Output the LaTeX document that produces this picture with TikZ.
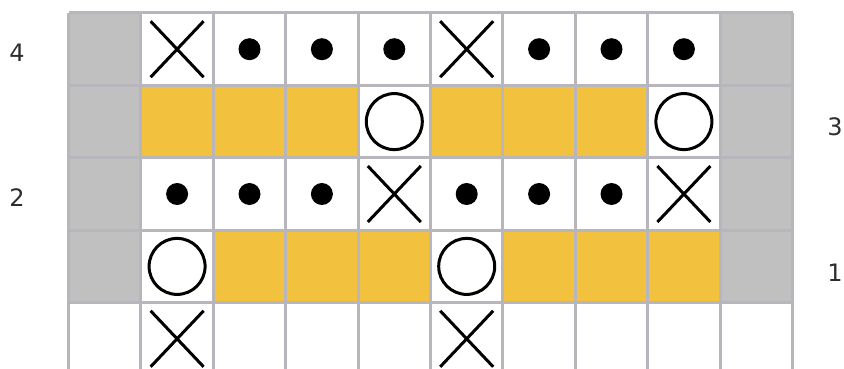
\documentclass[tikz,border=0pt]{standalone}
\usepackage{fontspec}
\setmainfont{DejaVu Sans}
\usepackage{xcolor}
\usepackage{tikz}

\definecolor{boxgray}{RGB}{192,192,192}
\definecolor{gold}{RGB}{242,194,62}
\definecolor{gridgray}{RGB}{182,182,188}
\definecolor{numgray}{RGB}{45,45,45}

\begin{document}
\begin{tikzpicture}[x=1pt, y=-1pt, font=\fontsize{24}{28}\selectfont,
  gridline/.style={draw=gridgray, line width=3pt},
  sym/.style={black, line width=3pt},
  rownum/.style={numgray, inner sep=0pt}]
\useasboundingbox (0,0) rectangle (844,369);
\clip (0,0) rectangle (844,369);
\begin{scope}[shift={(68.5,13)}]
% side columns and yellow cells
\foreach \r in {0,...,3} {
  \fill[boxgray] (0,72.4*\r) rectangle ++(72.4,72.4);
  \fill[boxgray] (72.4*9,72.4*\r) rectangle ++(72.4,72.4);
}
\foreach \c/\r in {1/1,2/1,3/1,5/1,6/1,7/1,2/3,3/3,4/3,6/3,7/3,8/3}
  \fill[gold] (72.4*\c,72.4*\r) rectangle ++(72.4,72.4);
% grid
\foreach \c in {0,...,10} \draw[gridline] (72.4*\c,0) -- (72.4*\c,380);
\foreach \r in {0,...,4} \draw[gridline] (0,72.4*\r) -- (724,72.4*\r);
% crosses
\foreach \c/\r in {1/0,5/0,4/2,8/2,1/4,5/4}
  \draw[sym] (72.4*\c+9.7,72.4*\r+8.2) -- ++(53,56)
             (72.4*\c+62.7,72.4*\r+8.2) -- ++(-53,56);
% dots
\foreach \c/\r in {2/0,3/0,4/0,6/0,7/0,8/0,1/2,2/2,3/2,5/2,6/2,7/2}
  \fill[black] (72.4*\c+36.2,72.4*\r+36.2) circle (11);
% open circles
\foreach \c/\r in {4/1,8/1,1/3,5/3}
  \draw[sym] (72.4*\c+36.2,72.4*\r+36.2) circle (28);
\end{scope}
% row numbers
\node[rownum] (row4) at (17,53) {4};
\node[rownum] (row2) at (17,198) {2};
\node[rownum] (row3) at (835,127) {3};
\node[rownum] (row1) at (835,273) {1};
\end{tikzpicture}
\end{document}
